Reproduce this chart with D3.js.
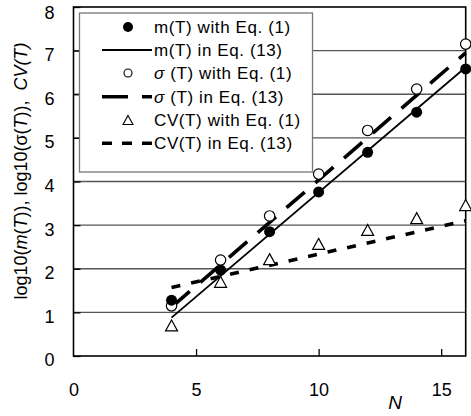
<!DOCTYPE html>
<html>
<head>
<meta charset="utf-8">
<script src="https://cdn.jsdelivr.net/npm/d3@7"></script>
<style>
  html, body { margin: 0; padding: 0; background: #fff; }
  svg { display: block; font-family: "Liberation Sans", Arial, sans-serif; }
</style>
</head>
<body>
<svg id="chart" width="471" height="416"></svg>
<script>
// Observed values at each N
const nValues = [4, 6, 8, 10, 12, 14, 16];
const mObserved = [1.28, 1.97, 2.85, 3.76, 4.67, 5.59, 6.58];
const sigmaObserved = [1.15, 2.2, 3.21, 4.17, 5.17, 6.12, 7.15];
const cvObserved = [0.7, 1.7, 2.22, 2.57, 2.89, 3.16, 3.46];

// Model lines (Eq. 13), end points
const modelN = [4, 16];
const mModel = [0.88, 6.62];
const sigmaModel = [1.12, 6.95];
const cvModel = [1.57, 3.1];

// Axis ticks
const xTicks = [0, 5, 10, 15];
const yTicks = [0, 1, 2, 3, 4, 5, 6, 7, 8];
const gridTicks = [1, 2, 3, 4, 5, 6, 7];

const legendLabels = [
  ["m(T) with Eq. (1)"],
  ["m(T) in Eq. (13)"],
  ["σ", " (T) with Eq. (1)"],
  ["σ", " (T) in Eq. (13)"],
  ["CV(T) with Eq. (1)"],
  ["CV(T) in Eq. (13)"]
];

const svg = d3.select("#chart");
const plotLeft = 73.5, plotRight = 465.7, plotTop = 7, plotBottom = 356;

const x = d3.scaleLinear().domain([0, 16]).range([plotLeft, plotRight]);
const y = d3.scaleLinear().domain([0, 8]).range([plotBottom, plotTop]);

// Gridlines
svg.append("g").selectAll("line").data(gridTicks).join("line")
  .attr("x1", plotLeft).attr("x2", plotRight)
  .attr("y1", d => y(d)).attr("y2", d => y(d))
  .attr("stroke", "#555").attr("stroke-width", 1.3);

// Axes with inward ticks
const xAxis = svg.append("g").attr("transform", `translate(0,${plotBottom})`)
  .call(d3.axisBottom(x).tickValues(xTicks).tickSizeInner(-7).tickSizeOuter(0).tickPadding(27));
const yAxis = svg.append("g").attr("transform", `translate(${plotLeft},0)`)
  .call(d3.axisLeft(y).tickValues(yTicks).tickSizeInner(-7).tickSizeOuter(0).tickPadding(16));
[xAxis, yAxis].forEach(g => {
  g.select(".domain").remove();
  g.selectAll(".tick line").attr("stroke", "#000").attr("stroke-width", 1.3);
  g.selectAll(".tick text").attr("font-size", 18).attr("fill", "#000")
    .attr("font-family", "'Liberation Sans', Arial, sans-serif");
});
xAxis.selectAll(".tick line").filter(d => d === 0).remove();
yAxis.selectAll(".tick text").attr("text-anchor", "middle").attr("x", -24)
  .attr("dy", d => d === 8 ? "0.62em" : "0.55em");

// Frame
svg.append("rect").attr("x", plotLeft).attr("y", plotTop)
  .attr("width", plotRight - plotLeft).attr("height", plotBottom - plotTop)
  .attr("fill", "none").attr("stroke", "#000").attr("stroke-width", 1.6);

// Legend box
const lg = svg.append("g");
lg.append("rect").attr("x", 79.5).attr("y", 13).attr("width", 233).attr("height", 159)
  .attr("fill", "#fff").attr("stroke", "#777").attr("stroke-width", 1.3);

const line = d3.line().x(d => x(d[0])).y(d => y(d[1]));

function modelPath(vals, width, dash) {
  svg.append("path")
    .datum(modelN.map((n, i) => [n, vals[i]]))
    .attr("d", line)
    .attr("fill", "none").attr("stroke", "#000")
    .attr("stroke-width", width)
    .attr("stroke-dasharray", dash);
}

modelPath(mModel, 1.8, null);
modelPath(sigmaModel, 3.6, "24,14");
modelPath(cvModel, 3.6, "9,11");

function triPath(cx, cy, w, h) {
  return `M${cx},${cy - h / 2}L${cx + w / 2},${cy + h / 2}L${cx - w / 2},${cy + h / 2}Z`;
}

// Markers
svg.append("g").selectAll("path").data(nValues.map((n, i) => [n, cvObserved[i]])).join("path")
  .attr("d", d => triPath(x(d[0]), y(d[1]), 12, 11))
  .attr("fill", "#fff").attr("stroke", "#000").attr("stroke-width", 1.2);
svg.append("g").selectAll("circle").data(nValues.map((n, i) => [n, sigmaObserved[i]])).join("circle")
  .attr("cx", d => x(d[0])).attr("cy", d => y(d[1])).attr("r", 5.2)
  .attr("fill", "#fff").attr("stroke", "#000").attr("stroke-width", 1.2);
svg.append("g").selectAll("circle").data(nValues.map((n, i) => [n, mObserved[i]])).join("circle")
  .attr("cx", d => x(d[0])).attr("cy", d => y(d[1])).attr("r", 5.5)
  .attr("fill", "#000");

// Legend entries
const rowY = [27, 50, 73, 96.7, 120, 143.3];
const symX = 128;
lg.append("circle").attr("cx", symX).attr("cy", rowY[0]).attr("r", 5).attr("fill", "#000");
lg.append("line").attr("x1", 102).attr("x2", 152).attr("y1", rowY[1]).attr("y2", rowY[1])
  .attr("stroke", "#000").attr("stroke-width", 1.8);
lg.append("circle").attr("cx", symX).attr("cy", rowY[2]).attr("r", 4)
  .attr("fill", "#fff").attr("stroke", "#000").attr("stroke-width", 1.1);
lg.append("line").attr("x1", 102).attr("x2", 152).attr("y1", rowY[3]).attr("y2", rowY[3])
  .attr("stroke", "#000").attr("stroke-width", 3.6).attr("stroke-dasharray", "26,14");
lg.append("path").attr("d", triPath(symX, rowY[4], 10, 9))
  .attr("fill", "#fff").attr("stroke", "#000").attr("stroke-width", 1.1);
lg.append("line").attr("x1", 102).attr("x2", 152).attr("y1", rowY[5]).attr("y2", rowY[5])
  .attr("stroke", "#000").attr("stroke-width", 3.6).attr("stroke-dasharray", "10,10");

legendLabels.forEach((parts, i) => {
  const t = lg.append("text").attr("x", 154).attr("y", rowY[i]).attr("dy", "0.36em")
    .attr("font-size", 17).attr("letter-spacing", 0.6).attr("fill", "#000");
  if (parts.length === 2) {
    t.append("tspan").attr("font-style", "italic").text(parts[0]);
    t.append("tspan").text(parts[1]);
  } else {
    t.text(parts[0]);
  }
});

// Axis titles
svg.append("text").attr("x", 395).attr("y", 402).attr("dy", "0.36em")
  .attr("text-anchor", "middle").attr("font-size", 19).attr("font-style", "italic").text("N");

const yt = svg.append("text")
  .attr("transform", "translate(21,171) rotate(-90)")
  .attr("text-anchor", "middle").attr("dy", "0.36em")
  .attr("font-size", 18).attr("fill", "#000")
  .attr("xml:space", "preserve");
[["log10(", null], ["m", "italic"], ["(", null], ["T", "italic"], ["))", null],
 [", log10(σ(", null], ["T", "italic"], [")),  ", null], ["CV(T)", "italic"]]
  .forEach(([s, st]) => {
    const sp = yt.append("tspan").text(s);
    if (st) sp.attr("font-style", st);
  });
</script>
</body>
</html>
